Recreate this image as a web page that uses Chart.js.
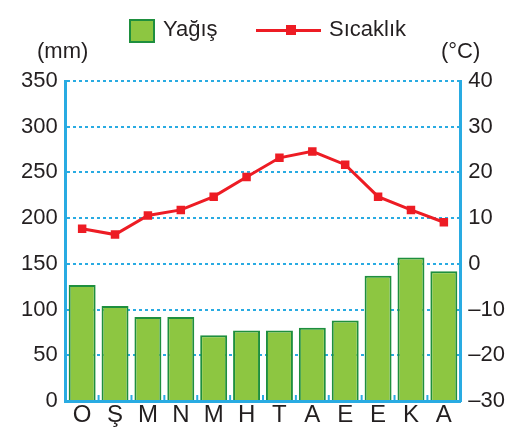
<!DOCTYPE html>
<html><head><meta charset="utf-8">
<script src="https://cdn.jsdelivr.net/npm/chart.js@4"></script>
<style>
html,body{margin:0;padding:0;background:#fff;}
#wrap{position:relative;width:523px;height:429px;font-family:"Liberation Sans",Arial,sans-serif;color:#231f20;}
canvas{position:absolute;left:0;top:0;}
.t{position:absolute;white-space:nowrap;font-size:22px;line-height:1;}
.box{position:absolute;left:129px;top:19px;width:22px;height:20px;background:#8dc641;border:2px solid #1e8f3e;}
.ln{position:absolute;left:256px;top:29px;width:65px;height:3px;background:#ed1c24;}
.mk{position:absolute;left:286px;top:25px;width:10px;height:10px;background:#ed1c24;}
</style></head>
<body><div id="wrap">
<canvas id="c" width="523" height="429"></canvas>
<div class="box"></div><div class="t" style="left:163px;top:18px">Yağış</div>
<div class="ln"></div><div class="mk"></div><div class="t" style="left:329px;top:18px">Sıcaklık</div>
<div class="t" style="left:37px;top:40px">(mm)</div>
<div class="t" style="left:441px;top:40px">(°C)</div>
</div>
<script>
const months = ["O","Ş","M","N","M","H","T","A","E","E","K","A"];
const precipitation = [127,104,92,92,72,77,77,80,88,137,157,142];
const temperature = [7.7,6.4,10.6,11.8,14.7,19.0,23.2,24.6,21.7,14.7,11.8,9.1];
const blue = "#29abe2";
const font = {family:"'Liberation Sans', Arial, sans-serif", size:22};
const catTicks = {
  id:'catTicks',
  afterDatasetsDraw(chart){
    const x = chart.scales.x, a = chart.chartArea, ctx = chart.ctx;
    ctx.save(); ctx.strokeStyle = blue; ctx.lineWidth = 2;
    for(let i=1;i<months.length;i++){
      const px = (x.getPixelForValue(i-1)+x.getPixelForValue(i))/2;
      ctx.beginPath(); ctx.moveTo(px,a.bottom); ctx.lineTo(px,a.bottom-6); ctx.stroke();
    }
    ctx.restore();
  }
};
new Chart(document.getElementById('c'),{
  data:{labels:months,datasets:[
    {type:'line',label:'Sıcaklık',data:temperature,yAxisID:'y1',borderColor:'#ed1c24',backgroundColor:'#ed1c24',borderWidth:3,pointStyle:'rect',pointRadius:6,pointBackgroundColor:'#ed1c24',pointBorderWidth:0,tension:0,order:0},
    {type:'bar',label:'Yağış',data:precipitation,yAxisID:'y',backgroundColor:'#8dc641',borderColor:'#1e8f3e',borderWidth:2,barPercentage:0.82,categoryPercentage:1,order:1}
  ]},
  options:{
    responsive:false,animation:false,devicePixelRatio:1,
    layout:{padding:{top:81,left:13,right:10,bottom:0}},
    plugins:{legend:{display:false},tooltip:{enabled:false}},
    scales:{
      x:{grid:{display:false,drawTicks:false},border:{color:blue,width:3},ticks:{color:'#231f20',font:{...font,size:24,lineHeight:1},padding:2}},
      y:{position:'left',min:0,max:350,ticks:{stepSize:50,color:'#231f20',font:font,padding:8},
         grid:{color:blue,lineWidth:2,drawTicks:false},border:{color:blue,width:3,dash:[3,3]}},
      y1:{position:'right',min:-30,max:40,ticks:{stepSize:10,color:'#231f20',font:font,padding:8,callback:v=>v<0?'–'+Math.abs(v):v},
         grid:{display:false,drawTicks:false},border:{color:blue,width:3}}
    }
  },
  plugins:[catTicks]
});
</script></body></html>
